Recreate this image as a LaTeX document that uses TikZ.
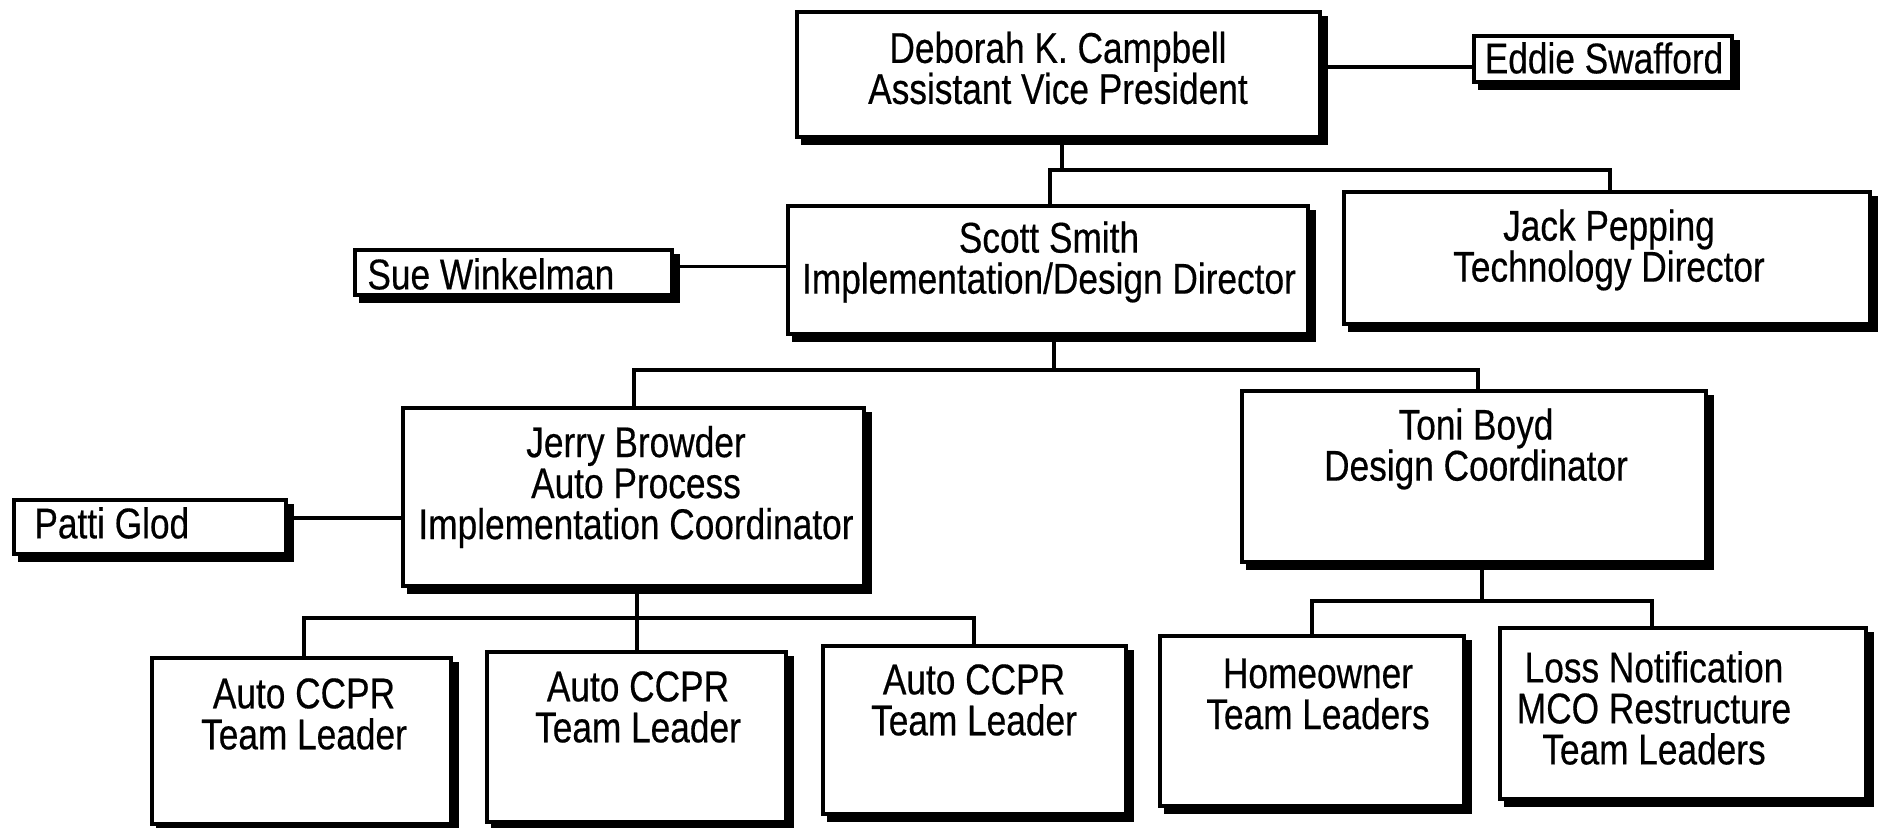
\documentclass[tikz,border=0pt]{standalone}
\usepackage{fontspec}
\setmainfont{Liberation Sans}[FakeStretch=0.82,FakeBold=0.4]
\usetikzlibrary{backgrounds}

\begin{document}
\begin{tikzpicture}[x=0.5pt,y=-0.5pt,
  box/.style={draw=black, line width=2pt, fill=white, rectangle, inner sep=0pt},
  shade/.style={fill=black},
  txt/.style={align=center, inner sep=0pt, font=\fontsize{21.5}{20.5}\selectfont},
  link/.style={draw=black, line width=1.6pt}]

\useasboundingbox (0,0) rectangle (1881,828);

% ---- boxes ----
\node[box, minimum width=261.5pt, minimum height=62.5pt] (deb)   at (1058.5,74.5) {};
\node[box, minimum width=129pt,   minimum height=23pt]   (eddie) at (1603,59) {};
\node[box, minimum width=260pt,   minimum height=64pt]   (scott) at (1048,270) {};
\node[box, minimum width=263pt,   minimum height=66pt]   (jack)  at (1607,258) {};
\node[box, minimum width=158.5pt, minimum height=22.5pt] (sue)   at (513.5,272.5) {};
\node[box, minimum width=230.5pt, minimum height=89pt]   (jerry) at (633.5,497) {};
\node[box, minimum width=232pt,   minimum height=85.5pt] (toni)  at (1474,476.5) {};
\node[box, minimum width=136pt,   minimum height=27pt]   (patti) at (150,527) {};
\node[box, minimum width=149.5pt, minimum height=83pt]   (cA)    at (301.5,741) {};
\node[box, minimum width=149.5pt, minimum height=85pt]   (cB)    at (636.5,737) {};
\node[box, minimum width=151.5pt, minimum height=84pt]   (cC)    at (974.5,730) {};
\node[box, minimum width=152pt,   minimum height=85pt]   (home)  at (1312,721) {};
\node[box, minimum width=183pt,   minimum height=85.5pt] (loss)  at (1683,713.5) {};

% ---- offset shadows behind every box, on a white page ----
\begin{pgfonlayer}{background}
  \fill[white] (0,0) rectangle (1881,828);
  \foreach \n in {deb,eddie,scott,jack,sue,jerry,toni,patti,cA,cB,cC,home,loss}{
    \fill[shade] ([shift={(6,6)}]\n.north west) rectangle ([shift={(6,6)}]\n.south east);
  }
\end{pgfonlayer}

% ---- junction points of the branch lines ----
\coordinate (d0) at (1062,170);
\coordinate (dL) at (1050,170);
\coordinate (dR) at (1610,170);
\coordinate (s0) at (1054,370);
\coordinate (sL) at (634,370);
\coordinate (sR) at (1478,370);
\coordinate (j0) at (637,618);
\coordinate (jL) at (304,618);
\coordinate (jM) at (637,618);
\coordinate (jR) at (974,618);
\coordinate (t0) at (1482,601);
\coordinate (tL) at (1312,601);
\coordinate (tR) at (1652,601);

% ---- connectors ----
\draw[link] (deb.south -| d0) -- (d0);
\draw[link] (scott.north -| dL) -- (dL) -- (dR) -- (jack.north -| dR);
\draw[link] ([yshift=-4pt]eddie.west) -- ([yshift=-4pt]eddie.west -| deb.east);
\draw[link] ([yshift=3pt]sue.east) -- ([yshift=3pt]sue.east -| scott.west);
\draw[link] (scott.south -| s0) -- (s0);
\draw[link] (jerry.north -| sL) -- (sL) -- (sR) -- (toni.north -| sR);
\draw[link] ([yshift=4.5pt]patti.east) -- ([yshift=4.5pt]patti.east -| jerry.west);
\draw[link] (jerry.south -| j0) -- (j0);
\draw[link] (cA.north -| jL) -- (jL) -- (jR) -- (cC.north -| jR);
\draw[link] (jM) -- (cB.north -| jM);
\draw[link] (toni.south -| t0) -- (t0);
\draw[link] (home.north -| tL) -- (tL) -- (tR) -- (loss.north -| tR);

% ---- texts ----
\node[txt] (debT)   at (1058,68)  {Deborah K. Campbell\\Assistant Vice President};
\node[txt] (eddieT) at (1604,58)  {Eddie Swafford};
\node[txt] (scottT) at (1049,262) {Scott Smith\\Implementation/Design Director};
\node[txt] (jackT)  at (1609,250) {Jack Pepping\\Technology Director};
\node[txt, anchor=west] (sueT)   at (367,274) {Sue Winkelman};
\node[txt] (jerryT) at (636,487)  {Jerry Browder\\Auto Process\\Implementation Coordinator};
\node[txt] (toniT)  at (1476,449) {Toni Boyd\\Design Coordinator};
\node[txt, anchor=west] (pattiT) at (34,523) {Patti Glod};
\node[txt] (cAT)    at (304,714)  {Auto CCPR\\Team Leader};
\node[txt] (cBT)    at (638,707)  {Auto CCPR\\Team Leader};
\node[txt] (cCT)    at (974,700)  {Auto CCPR\\Team Leader};
\node[txt] (homeT)  at (1318,694) {Homeowner\\Team Leaders};
\node[txt] (lossT)  at (1654,708) {Loss Notification\\MCO Restructure\\Team Leaders};
\end{tikzpicture}
\end{document}
